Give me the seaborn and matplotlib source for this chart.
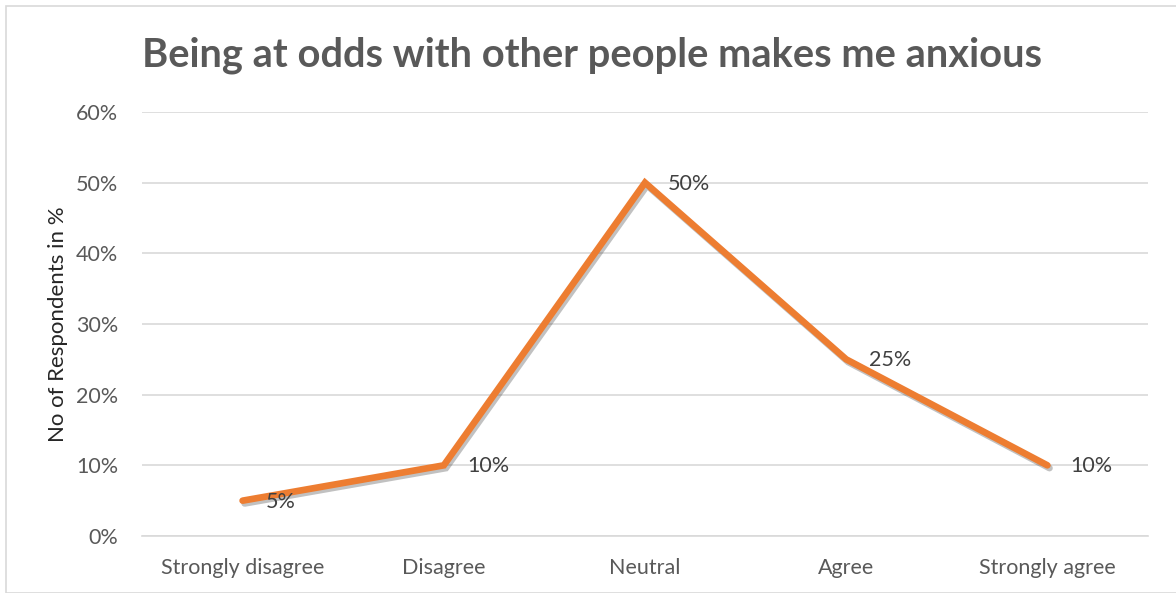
import matplotlib
matplotlib.use("Agg")
import matplotlib.pyplot as plt
import matplotlib.patheffects as pe
from matplotlib.patches import Rectangle
from matplotlib.ticker import PercentFormatter
import seaborn as sns
import pandas as pd

categories = ["Strongly disagree", "Disagree", "Neutral", "Agree", "Strongly agree"]
values = [5, 10, 50, 25, 10]
value_labels = ["5%", "10%", "50%", "25%", "10%"]
y_ticks = [0, 10, 20, 30, 40, 50, 60]

sns.set_theme(style="white")
plt.rcParams["font.family"] = ["Lato", "DejaVu Sans"]

TEXT = "#595959"
ORANGE = "#ED7D31"

df = pd.DataFrame({"Response": categories, "Percent": values})

fig = plt.figure(figsize=(11.76, 5.93), dpi=100)
fig.patches.append(Rectangle((6 / 1176, 0), 1.0, 1 - 6 / 593, transform=fig.transFigure,
                             fill=False, edgecolor="#D9D9D9", linewidth=1.2))
ax = fig.add_axes([142 / 1176, 1 - 536 / 593, (1148 - 142) / 1176, (536 - 112) / 593])

sns.lineplot(data=df, x="Response", y="Percent", ax=ax, color=ORANGE, linewidth=4.8,
             sort=False, solid_capstyle="round", solid_joinstyle="miter",
             path_effects=[pe.SimpleLineShadow(offset=(1.5, -2), shadow_color="#333333", alpha=0.3),
                           pe.Normal()])

for i, (v, lab) in enumerate(zip(values, value_labels)):
    ax.annotate(lab, (i, v), xytext=(23, -1), textcoords="offset pixels",
                ha="left", va="center", fontsize=15.5, color="#404040")

ax.set_xlim(-0.5, len(categories) - 0.5)
ax.set_ylim(0, 60)
ax.set_yticks(y_ticks)
ax.yaxis.set_major_formatter(PercentFormatter(decimals=0))
ax.grid(axis="y", color="#D9D9D9", linewidth=1.2)
ax.set_axisbelow(True)
for s in ["top", "right", "left"]:
    ax.spines[s].set_visible(False)
ax.spines["bottom"].set_color("#D9D9D9")
ax.spines["bottom"].set_linewidth(1.2)
ax.tick_params(axis="both", length=0, labelsize=15.5, labelcolor=TEXT)
ax.tick_params(axis="x", pad=15.5)
ax.tick_params(axis="y", pad=17)
ax.set_xlabel("")
ax.set_ylabel("No of Respondents in %", fontsize=16, color="#262626", labelpad=6)

fig.text(142 / 1176, 1 - 55 / 593, "Being at odds with other people makes me anxious",
         fontsize=28.7, fontweight="bold", color=TEXT, ha="left", va="center")

fig.savefig("out.png", dpi=100)
